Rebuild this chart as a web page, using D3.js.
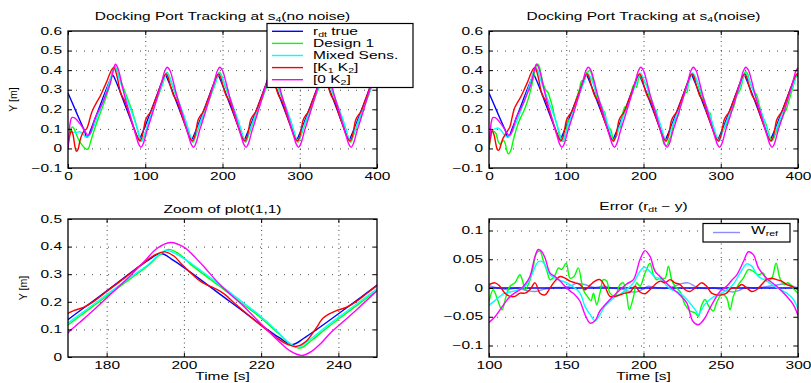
<!DOCTYPE html>
<html><head><meta charset="utf-8">
<script src="https://cdn.jsdelivr.net/npm/d3@7"></script>
<style>
body{margin:0;background:#fff}
svg{display:block}
text{font-family:"Liberation Sans",Arial,Helvetica,sans-serif;white-space:pre}
</style></head>
<body><svg id="c" width="811" height="383"></svg>
<script>
// ---------------- DATA: [time (s), Y (m)] ----------------
const rdtTrue = [[0,0.283],[10,0.192],[20,0.102],[22,0.083],[24,0.058],[26.5,0.066],[28.5,0.085],[44,0.245],[54.5,0.349],[58,0.374],[61.5,0.348],[76,0.2],[88.5,0.072],[92,0.045],[95.5,0.072],[110,0.218],[122.5,0.348],[126,0.375],[129.5,0.348],[144,0.2],[156.5,0.072],[160,0.045],[163.5,0.072],[178,0.218],[190.5,0.348],[194,0.375],[197.5,0.348],[212,0.2],[224.5,0.072],[228,0.045],[231.5,0.072],[246,0.218],[258.5,0.348],[262,0.375],[265.5,0.348],[280,0.2],[292.5,0.072],[296,0.045],[299.5,0.072],[314,0.218],[326.5,0.348],[330,0.377],[333.5,0.35],[348,0.202],[360.5,0.072],[364,0.045],[367.5,0.072],[382,0.218],[394.5,0.348],[398,0.375],[400,0.365]];

const design1Clean = [[0,0.03],[2.5,0.08],[5.5,0.11],[8,0.1],[11,0.07],[14.5,0.04],[18,0.018],[21,0.005],[24,-0.005],[26.5,0.0],[29,0.03],[32,0.07],[37,0.13],[45.5,0.22],[50,0.27],[54.5,0.333],[58.5,0.4],[61,0.418],[63.5,0.402],[66,0.37],[69.5,0.333],[76,0.265],[82.5,0.197],[89,0.111],[92,0.065],[95,0.036],[98,0.055],[101,0.092],[106,0.152],[112,0.218],[118,0.282],[123,0.334],[125.5,0.368],[128,0.39],[130.5,0.376],[134,0.333],[141,0.259],[148,0.184],[151.5,0.147],[156.5,0.085],[159,0.052],[162,0.032],[165,0.06],[169,0.105],[174,0.158],[180,0.22],[186,0.282],[191,0.334],[193.5,0.368],[196,0.39],[198.5,0.376],[202,0.333],[209,0.259],[216,0.184],[219.5,0.147],[224.5,0.085],[227,0.052],[230,0.032],[233,0.06],[237,0.105],[242,0.158],[248,0.22],[254,0.282],[259,0.334],[261.5,0.368],[264,0.39],[266.5,0.376],[270,0.333],[277,0.259],[284,0.184],[287.5,0.147],[292.5,0.085],[295,0.052],[298,0.032],[301,0.06],[305,0.105],[310,0.158],[316,0.22],[322,0.282],[327,0.334],[329.5,0.368],[332,0.39],[334.5,0.376],[338,0.333],[345,0.259],[352,0.184],[355.5,0.147],[360.5,0.085],[363,0.052],[366,0.032],[369,0.06],[373,0.105],[378,0.158],[384,0.22],[390,0.282],[395,0.334],[397.5,0.368],[400,0.39]];

const design1Noise = [[0,0.0],[2,0.05],[4.5,0.089],[7,0.085],[9,0.077],[12,0.034],[14.5,0.02],[17,0.035],[19,0.04],[21,0.025],[23,-0.01],[25,-0.028],[27,-0.02],[29,0.0],[31.5,0.043],[35.5,0.1],[39,0.14],[42.5,0.17],[46,0.2],[49,0.232],[52,0.27],[55,0.316],[58,0.37],[60.5,0.415],[62.5,0.432],[65,0.42],[68,0.367],[71,0.32],[74,0.295],[76.5,0.285],[79,0.255],[82,0.215],[85,0.16],[88,0.12],[91,0.07],[93.5,0.045],[95.5,0.035],[97.5,0.055],[100.6,0.104],[102.7,0.142],[105.5,0.154],[108.4,0.166],[111,0.216],[113.6,0.26],[116.8,0.299],[120,0.346],[123.3,0.349],[126,0.385],[128.2,0.392],[130.8,0.399],[133,0.377],[135,0.341],[137.5,0.297],[139.5,0.26],[142.3,0.238],[145,0.224],[147,0.201],[150,0.181],[152.4,0.13],[155,0.106],[157.8,0.095],[161,0.043],[164.3,0.058],[166,0.071],[167.6,0.104],[169.7,0.106],[171.8,0.148],[174,0.194],[176.2,0.214],[178.3,0.214],[181.5,0.242],[184.8,0.296],[186.9,0.321],[189.1,0.322],[190.8,0.312],[193.4,0.355],[195.6,0.379],[197.7,0.353],[201,0.339],[204.2,0.323],[206.4,0.28],[208.5,0.25],[210.7,0.23],[213.9,0.197],[216.1,0.196],[218.3,0.149],[220.4,0.116],[223.6,0.074],[226.9,0.021],[230.1,0.015],[233.3,0.045],[235.5,0.063],[237.6,0.104],[239.8,0.137],[241.9,0.148],[245.2,0.172],[247.4,0.21],[250.6,0.257],[253.8,0.284],[256,0.286],[258.1,0.331],[261.4,0.379],[264.6,0.379],[267.9,0.356],[271.1,0.32],[274.3,0.281],[277.6,0.25],[279.7,0.214],[283,0.185],[285.8,0.182],[288.3,0.13],[290.9,0.093],[293.7,0.067],[297,0.045],[299.6,0.061],[302,0.085],[305,0.105],[308,0.128],[311,0.17],[314,0.19],[317,0.215],[320,0.262],[323,0.285],[326,0.31],[329,0.36],[332,0.392],[334.5,0.385],[337,0.345],[340,0.315],[343,0.29],[346.5,0.273],[349,0.235],[352,0.19],[355,0.155],[358,0.13],[361,0.09],[364,0.055],[367,0.04],[370,0.065],[373,0.1],[376,0.13],[379,0.15],[382,0.178],[385,0.2],[388,0.24],[391,0.28],[394,0.32],[397,0.36],[400,0.385]];

const mixedEarlyClean = [[0,0.02],[1.5,0.07],[3,0.082],[7,0.082],[11,0.082],[15,0.085],[19,0.075],[22,0.062],[25,0.058],[28,0.068],[31,0.09]];
const mixedEarlyNoise = [[0,0.02],[1.5,0.075],[4,0.093],[8,0.1],[12,0.104],[15,0.095],[18,0.08],[21,0.065],[24,0.058],[27,0.064],[30,0.085]];
const mixedTail = [[36,0.14],[45,0.235],[54,0.345],[58,0.398],[60,0.415],[62.5,0.405],[66,0.36],[69,0.325],[75.5,0.257],[82,0.19],[86,0.145],[90.5,0.09],[93,0.055],[95.5,0.036],[98.5,0.062],[101,0.095],[106,0.158],[112,0.226],[118,0.287],[123,0.338],[125.5,0.37],[127.5,0.386],[130,0.374],[134,0.338],[141,0.265],[148,0.19],[151.5,0.152],[156,0.095],[158.5,0.06],[161.5,0.035],[164.5,0.062],[169,0.112],[174,0.164],[180,0.226],[186,0.287],[191,0.338],[193.5,0.37],[195.5,0.386],[198,0.374],[202,0.338],[209,0.265],[216,0.19],[219.5,0.152],[224,0.095],[226.5,0.06],[229.5,0.035],[232.5,0.062],[237,0.112],[242,0.164],[248,0.226],[254,0.287],[259,0.338],[261.5,0.37],[263.5,0.386],[266,0.374],[270,0.338],[277,0.265],[284,0.19],[287.5,0.152],[292,0.095],[294.5,0.06],[297.5,0.035],[300.5,0.062],[305,0.112],[310,0.164],[316,0.226],[322,0.287],[327,0.338],[329.5,0.37],[331.5,0.386],[334,0.374],[338,0.338],[345,0.265],[352,0.19],[355.5,0.152],[360,0.095],[362.5,0.06],[365.5,0.035],[368.5,0.062],[373,0.112],[378,0.164],[384,0.226],[390,0.287],[395,0.338],[397.5,0.37],[399.5,0.386],[400,0.385]];

const k1k2EarlyClean = [[0,0.0],[2,0.06],[4.5,0.09],[6.5,0.07],[9,0.01],[11,-0.015],[13,-0.005],[15.5,0.04],[18,0.07],[21,0.09],[24,0.1],[26.5,0.125],[29.5,0.17]];
const k1k2EarlyNoise = [[0,0.0],[2,0.06],[4,0.09],[6.5,0.07],[9,0.02],[11,-0.008],[13,-0.008],[15.5,0.02],[18,0.05],[20.5,0.068],[24,0.09],[27,0.11],[30,0.16]];
const k1k2Tail = [[33,0.205],[37,0.235],[41,0.262],[45.5,0.3],[50,0.34],[54,0.38],[57,0.405],[59.5,0.414],[62,0.39],[64.5,0.35],[67,0.3],[69,0.275],[71,0.26],[73,0.247],[75,0.228],[78,0.19],[84,0.12],[89,0.065],[91.5,0.045],[93,0.038],[95.5,0.055],[98,0.1],[100,0.14],[101.5,0.155],[103.5,0.168],[106,0.18],[108.5,0.2],[111.5,0.232],[116.5,0.285],[121.5,0.34],[124.5,0.37],[127,0.381],[129.5,0.365],[131.5,0.335],[134.5,0.295],[136.5,0.272],[138.5,0.258],[140.5,0.245],[142.5,0.228],[145.5,0.19],[151.5,0.12],[156.5,0.065],[159,0.045],[161,0.038],[163.5,0.055],[166,0.1],[168,0.14],[169.5,0.155],[171.5,0.168],[174,0.18],[176.5,0.2],[179.5,0.232],[184.5,0.285],[189.5,0.34],[192.5,0.37],[195,0.381],[197.5,0.365],[199.5,0.335],[202.5,0.295],[204.5,0.272],[206.5,0.258],[208.5,0.245],[210.5,0.228],[213.5,0.19],[219.5,0.12],[224.5,0.065],[227,0.045],[229,0.038],[231.5,0.055],[234,0.1],[236,0.14],[237.5,0.155],[239.5,0.168],[242,0.18],[244.5,0.2],[247.5,0.232],[252.5,0.285],[257.5,0.34],[260.5,0.37],[263,0.381],[265.5,0.365],[267.5,0.335],[270.5,0.295],[272.5,0.272],[274.5,0.258],[276.5,0.245],[278.5,0.228],[281.5,0.19],[287.5,0.12],[292.5,0.065],[295,0.045],[297,0.038],[299.5,0.055],[302,0.1],[304,0.14],[305.5,0.155],[307.5,0.168],[310,0.18],[312.5,0.2],[315.5,0.232],[320.5,0.285],[325.5,0.34],[328.5,0.37],[331,0.381],[333.5,0.365],[335.5,0.335],[338.5,0.295],[340.5,0.272],[342.5,0.258],[344.5,0.245],[346.5,0.228],[349.5,0.19],[355.5,0.12],[360.5,0.065],[363,0.045],[365,0.038],[367.5,0.055],[370,0.1],[372,0.14],[373.5,0.155],[375.5,0.168],[378,0.18],[380.5,0.2],[383.5,0.232],[388.5,0.285],[393.5,0.34],[396.5,0.37],[399,0.381],[400,0.378]];

const k0k2 = [[0,0.0],[1.5,0.08],[3,0.135],[5,0.158],[8,0.157],[11,0.148],[14,0.133],[17,0.118],[20,0.1],[23,0.08],[25.5,0.068],[28,0.072],[31,0.1],[35,0.155],[40,0.195],[45.5,0.24],[50,0.285],[54.5,0.33],[57.5,0.38],[60,0.42],[61.5,0.43],[63.5,0.42],[66.5,0.385],[69,0.34],[73.5,0.265],[79,0.19],[84,0.12],[88.5,0.058],[91.5,0.022],[94.5,0.006],[97,0.02],[99.5,0.05],[102,0.088],[105,0.125],[109,0.175],[114,0.24],[118,0.293],[122,0.35],[125,0.393],[128.5,0.415],[132,0.398],[136,0.345],[141.5,0.26],[147,0.19],[152,0.12],[156.5,0.058],[159.5,0.022],[162.5,0.006],[165,0.02],[167.5,0.05],[170,0.088],[173,0.125],[177,0.175],[182,0.24],[186,0.293],[190,0.35],[193,0.393],[196.5,0.415],[200,0.398],[204,0.345],[209.5,0.26],[215,0.19],[220,0.12],[224.5,0.058],[227.5,0.022],[230.5,0.006],[233,0.02],[235.5,0.05],[238,0.088],[241,0.125],[245,0.175],[250,0.24],[254,0.293],[258,0.35],[261,0.393],[264.5,0.415],[268,0.398],[272,0.345],[277.5,0.26],[283,0.19],[288,0.12],[292.5,0.058],[295.5,0.022],[298.5,0.006],[301,0.02],[303.5,0.05],[306,0.088],[309,0.125],[313,0.175],[318,0.24],[322,0.293],[326,0.35],[329,0.393],[332.5,0.415],[336,0.398],[340,0.345],[345.5,0.26],[351,0.19],[356,0.12],[360.5,0.058],[363.5,0.022],[366.5,0.006],[369,0.02],[371.5,0.05],[374,0.088],[377,0.125],[381,0.175],[386,0.24],[390,0.293],[394,0.35],[397,0.393],[400,0.412]];

// ---------------- Error (r_dt - y): [time (s), error (m)] ----------------
const errTrue = [[100,0],[300,0]];
const errWref = [[100,0.004],[106,0.0],[112,-0.003],[118,0.0],[124,-0.004],[130,-0.006],[136,-0.002],[142,0.001],[148,0.001],[153,0.004],[157,0.008],[162,0.006],[168,0.001],[174,0.003],[180,0.0],[186,-0.002],[191,-0.006],[195,-0.007],[199,-0.003],[203,0.003],[208,0.001],[214,-0.001],[220,0.003],[225,0.008],[229,0.009],[234,0.002],[240,-0.001],[246,0.0],[252,-0.004],[258,-0.007],[262,-0.004],[266,0.001],[272,0.0],[278,0.002],[284,0.004],[290,0.007],[293,0.008],[297,0.003],[300,0.0]];
const errDesign1 = [[100,-0.024],[102.7,-0.003],[105.5,-0.02],[108.4,-0.038],[111,-0.015],[113.6,0.003],[116.8,0.009],[120,0.023],[121.8,0.012],[123.3,-0.003],[126,0.01],[128.2,0.03],[130.8,0.061],[133,0.064],[135,0.049],[137.5,0.03],[139.5,0.0145],[142.3,0.02],[145,0.035],[147,0.032],[150,0.043],[152.4,0.017],[155,0.02],[157.8,0.035],[161,-0.003],[164.3,-0.017],[166,-0.022],[167.6,-0.009],[169.7,-0.029],[171.8,-0.009],[174,0.0145],[176.2,0.012],[178.3,-0.009],[181.5,-0.014],[184.8,0.006],[186.9,0.009],[189.1,-0.012],[190.8,-0.038],[193.4,-0.017],[195.6,0.009],[197.7,0.003],[201,0.026],[204.2,0.043],[206.4,0.023],[208.5,0.0145],[210.7,0.017],[213.9,0.017],[216.1,0.038],[218.3,0.014],[220.4,0.003],[223.6,-0.006],[226.9,-0.029],[230.1,-0.04],[233.3,-0.043],[235.5,-0.049],[237.6,-0.03],[239.8,-0.02],[241.9,-0.03],[245.2,-0.04],[247.4,-0.025],[250.6,-0.011],[253.8,-0.017],[256,-0.038],[258.1,-0.015],[261.4,0.006],[264.6,0.017],[267.9,0.032],[271.1,0.029],[274.3,0.023],[277.6,0.026],[279.7,0.012],[283,0.017],[285.8,0.043],[288.3,0.017],[290.9,0.006],[293.7,0.009],[297,-0.001],[300,-0.009]];
const errMixed = [[100,-0.03],[103.8,-0.022],[107.1,-0.0145],[110.3,-0.009],[116.8,-0.005],[123.3,0.003],[127.6,0.023],[132,0.046],[135,0.045],[139.5,0.023],[142.7,0.017],[152.4,0.006],[158.9,-0.009],[162.1,-0.032],[165.4,-0.046],[168.6,-0.057],[171.5,-0.048],[175,-0.032],[181.5,-0.016],[188,-0.005],[193.5,0.009],[197.7,0.029],[200.5,0.036],[203,0.032],[207.5,0.019],[210.7,0.016],[217,-0.001],[223.6,-0.009],[230,-0.026],[234,-0.04],[235.5,-0.046],[239.8,-0.028],[246,-0.014],[252.6,-0.006],[258,0.006],[262.5,0.026],[266.8,0.042],[270,0.038],[274.4,0.02],[279.7,0.012],[286,0.001],[292.7,-0.009],[297,-0.02],[300,-0.036]];
const errK1K2 = [[100,0.006],[103.9,0.009],[107,0.003],[110.3,-0.009],[113.6,-0.0145],[116.8,-0.0145],[120.1,-0.009],[123.3,-0.009],[126.5,-0.003],[129.8,0.009],[133,-0.009],[136.3,-0.012],[139.5,0.0],[142.7,0.012],[146,0.02],[149.2,0.017],[152.4,0.012],[155.7,0.009],[158.9,0.006],[162.1,-0.003],[165.4,0.005],[168.6,0.012],[171.8,0.0145],[175,0.003],[178.3,-0.0145],[181.5,-0.0145],[184.8,-0.012],[188,-0.009],[191.3,-0.007],[194.5,0.003],[197.7,-0.007],[201,-0.01],[204.2,-0.003],[207.5,0.006],[210.7,0.012],[213.9,0.009],[217.2,0.0145],[220.4,0.009],[223.6,0.006],[226.9,-0.003],[230.1,-0.006],[233.3,0.0],[237.6,0.009],[240.9,0.003],[244.1,-0.009],[247.4,-0.012],[250.6,-0.012],[253.8,-0.009],[257,0.0],[260.3,0.0],[263.5,0.006],[266.8,0.0],[270,-0.006],[273.2,-0.003],[276.5,0.006],[279.7,0.0145],[283,0.017],[286.2,0.0145],[289.4,0.012],[292.7,0.006],[295.9,0.003],[300,-0.003]];
const errK0K2 = [[100,-0.06],[103.9,-0.05],[107.1,-0.038],[110.5,-0.025],[113.6,-0.015],[117,-0.008],[120.1,-0.003],[123.3,0.006],[126.5,0.02],[129.8,0.055],[131.9,0.067],[134,0.064],[136.3,0.052],[139.5,0.026],[142.7,0.02],[146,0.012],[149.2,0.003],[152.4,-0.005],[155.7,-0.012],[158.9,-0.023],[162.1,-0.046],[165.4,-0.061],[168.6,-0.057],[171.8,-0.04],[178.3,-0.02],[184.8,-0.003],[189.1,0.007],[193.5,0.0145],[197.7,0.049],[201,0.065],[204.2,0.055],[207.5,0.029],[210.7,0.02],[217,0.003],[223.6,-0.012],[228,-0.026],[232,-0.058],[235.5,-0.064],[239.8,-0.052],[243,-0.035],[249.5,-0.006],[253.8,0.003],[257,0.013],[260.4,0.023],[264.7,0.046],[267.9,0.063],[271.1,0.058],[274.4,0.035],[279.7,0.017],[286.2,0.003],[292.7,-0.0145],[297,-0.029],[300,-0.048]];

// ---------------- Ticks & labels ----------------
const topXTicks = [0,100,200,300,400];
const topXLabels = ["0","100","200","300","400"];
const topYTicks = [-0.1,0,0.1,0.2,0.3,0.4,0.5,0.6];
const topYLabels = ["\u22120.1","0","0.1","0.2","0.3","0.4","0.5","0.6"];
const zoomXTicks = [180,200,220,240];
const zoomXLabels = ["180","200","220","240"];
const zoomYTicks = [0,0.1,0.2,0.3,0.4,0.5];
const zoomYLabels = ["0","0.1","0.2","0.3","0.4","0.5"];
const errXTicks = [100,150,200,250,300];
const errXLabels = ["100","150","200","250","300"];
const errYTicks = [-0.1,-0.05,0,0.05,0.1];
const errYLabels = ["\u22120.1","\u22120.05","0","0.05","0.1"];

const seriesColors = {blue:"#0000ff", green:"#00ff00", cyan:"#00ffff", red:"#ff0000", magenta:"#ff00ff", lav:"#8c8cff"};

// ---------------- Drawing ----------------
const SX = 1.55;        // horizontal stretch of the bitmap-like axis font
const FS = 10;
const svg = d3.select("#c");
svg.append("rect").attr("width",811).attr("height",383).attr("fill","#fff");

function stext(x, y, anchor, parts, size) {
  size = size || FS;
  const g = svg.append("g").attr("transform", `translate(${x},${y}) scale(${SX},1)`);
  const t = g.append("text").attr("text-anchor", anchor).attr("font-size", size).attr("fill","#000");
  let shift = 0;
  parts.forEach(p => {
    const sub = Array.isArray(p);
    const target = sub ? 2.2 : 0;
    t.append("tspan").attr("font-size", sub ? size*0.68 : size).attr("dy", target - shift).text(sub ? p[0] : p);
    shift = target;
  });
  return g;
}

let clipN = 0;
function panel(p) {
  const x = d3.scaleLinear().domain(p.xd).range([p.x0, p.x1]);
  const y = d3.scaleLinear().domain(p.yd).range([p.y1, p.y0]);
  const g = svg.append("g");
  const W = p.x1 - p.x0, H = p.y1 - p.y0;
  // grid
  const gx = g.append("g").attr("transform", `translate(0,${p.y1})`)
    .call(d3.axisBottom(x).tickValues(p.xt.filter(v => v > p.xd[0] && v < p.xd[1])).tickSize(-H).tickFormat(""));
  gx.select(".domain").remove();
  gx.selectAll("line").attr("stroke","#333").attr("stroke-width",0.9).attr("stroke-dasharray","1,3.5");
  const gy = g.append("g").attr("transform", `translate(${p.x0},0)`)
    .call(d3.axisLeft(y).tickValues(p.yt.filter(v => v > p.yd[0] && v < p.yd[1])).tickSize(-W).tickFormat(""));
  gy.select(".domain").remove();
  gy.selectAll("line").attr("stroke","#333").attr("stroke-width",0.9).attr("stroke-dasharray","1,7");
  // clip
  const id = "clip" + (clipN++);
  svg.append("clipPath").attr("id", id).append("rect").attr("x", p.x0).attr("y", p.y0).attr("width", W).attr("height", H);
  const line = d3.line().x(d => x(d[0])).y(d => y(d[1])).curve(d3.curveCatmullRom.alpha(0.5));
  p.series.forEach(s => {
    g.append("path").datum(s.data).attr("clip-path", `url(#${id})`)
      .attr("fill","none").attr("stroke", s.color).attr("stroke-width", s.w || 1.4)
      .attr("stroke-linejoin","round").attr("d", line);
  });
  // box
  g.append("rect").attr("x", p.x0).attr("y", p.y0).attr("width", W).attr("height", H)
    .attr("fill","none").attr("stroke","#000").attr("stroke-width",1.3);
  // axes (inward ticks)
  const ax = g.append("g").attr("transform", `translate(0,${p.y1})`)
    .call(d3.axisBottom(x).tickValues(p.xt).tickSizeInner(-4).tickSizeOuter(0).tickPadding(5).tickFormat((d,i) => p.xl[i]));
  const ay = g.append("g").attr("transform", `translate(${p.x0},0)`)
    .call(d3.axisLeft(y).tickValues(p.yt).tickSizeInner(-4).tickSizeOuter(0).tickPadding(6).tickFormat((d,i) => p.yl[i]));
  const at = g.append("g").attr("transform", `translate(0,${p.y0})`)
    .call(d3.axisTop(x).tickValues(p.xt).tickSizeInner(-4).tickSizeOuter(0).tickFormat(""));
  const ar = g.append("g").attr("transform", `translate(${p.x1},0)`)
    .call(d3.axisRight(y).tickValues(p.yt).tickSizeInner(-4).tickSizeOuter(0).tickFormat(""));
  [ax, ay, at, ar].forEach(a => {
    a.select(".domain").remove();
    a.selectAll("line").attr("stroke","#000");
    a.selectAll("text").attr("font-size", FS).attr("fill","#000")
      .attr("font-family",'"Liberation Sans",Arial,sans-serif');
  });
  ax.selectAll("text").attr("transform", `scale(${SX},1)`);
  ay.selectAll("text").attr("x", -6 / SX).attr("transform", `scale(${SX},1)`);
  return {x, y};
}

function ylabel(cx, cy) {
  svg.append("text").attr("transform", `translate(${cx},${cy}) rotate(-90)`)
    .attr("text-anchor","middle").attr("font-size", 10.5).attr("fill","#000").text("Y [m]");
}

const C = seriesColors;
// Top-left: no noise
panel({x0:68, x1:377, y0:31, y1:168, xd:[0,400], yd:[-0.1,0.6],
  xt: topXTicks, xl: topXLabels, yt: topYTicks, yl: topYLabels,
  series: [
    {data: rdtTrue, color: C.blue},
    {data: design1Clean, color: C.green},
    {data: mixedEarlyClean.concat(mixedTail), color: C.cyan},
    {data: k1k2EarlyClean.concat(k1k2Tail), color: C.red},
    {data: k0k2, color: C.magenta}
  ]});
// Top-right: noise
panel({x0:489, x1:798, y0:31, y1:168, xd:[0,400], yd:[-0.1,0.6],
  xt: topXTicks, xl: topXLabels, yt: topYTicks, yl: topYLabels,
  series: [
    {data: rdtTrue, color: C.blue},
    {data: design1Noise, color: C.green},
    {data: mixedEarlyNoise.concat(mixedTail), color: C.cyan},
    {data: k1k2EarlyNoise.concat(k1k2Tail), color: C.red},
    {data: k0k2, color: C.magenta}
  ]});
// Bottom-left: zoom of plot(1,1)
panel({x0:68, x1:377, y0:219, y1:357, xd:[170,250], yd:[0,0.5],
  xt: zoomXTicks, xl: zoomXLabels, yt: zoomYTicks, yl: zoomYLabels,
  series: [
    {data: rdtTrue, color: C.blue},
    {data: design1Clean, color: C.green},
    {data: mixedEarlyClean.concat(mixedTail), color: C.cyan},
    {data: k1k2EarlyClean.concat(k1k2Tail), color: C.red},
    {data: k0k2, color: C.magenta}
  ]});
// Bottom-right: error
panel({x0:489, x1:798, y0:219, y1:357, xd:[100,300], yd:[-0.12,0.12],
  xt: errXTicks, xl: errXLabels, yt: errYTicks, yl: errYLabels,
  series: [
    {data: errWref, color: C.lav},
    {data: errTrue, color: C.blue},
    {data: errDesign1, color: C.green},
    {data: errMixed, color: C.cyan},
    {data: errK1K2, color: C.red},
    {data: errK0K2, color: C.magenta}
  ]});

// titles and labels
stext(222.5, 19.5, "middle", ["Docking Port Tracking at s", ["4"], "(no noise)"]);
stext(643.5, 19.5, "middle", ["Docking Port Tracking at s", ["4"], "(noise)"]);
stext(222.5, 212.5, "middle", ["Zoom of plot(1,1)"]);
stext(643.5, 209.5, "middle", ["Error (r", ["dt"], " \u2212 y)"]);
stext(222.5, 380, "middle", ["Time [s]"]);
stext(643.5, 380, "middle", ["Time [s]"]);
ylabel(16.5, 99.5);
ylabel(27, 288);

// legend top-left
const legItems = [
  {parts: ["r", ["dt"], " true"], color: C.blue},
  {parts: ["Design 1"], color: C.green},
  {parts: ["Mixed Sens."], color: C.cyan},
  {parts: ["[K", ["1"], " K", ["2"], "]"], color: C.red},
  {parts: ["[0 K", ["2"], "]"], color: C.magenta}
];
svg.append("rect").attr("x",267).attr("y",23.5).attr("width",146).attr("height",64)
  .attr("fill","#fff").attr("stroke","#000").attr("stroke-width",1.2);
legItems.forEach((it, i) => {
  const ly = 31.3 + i * 12.1;
  svg.append("line").attr("x1",272).attr("x2",303).attr("y1",ly).attr("y2",ly)
    .attr("stroke", it.color).attr("stroke-width",1.4);
  stext(313, ly + 3.3, "start", it.parts);
});
// legend bottom-right
svg.append("rect").attr("x",703).attr("y",223.5).attr("width",87).attr("height",18.5)
  .attr("fill","#fff").attr("stroke","#000").attr("stroke-width",1.2);
svg.append("line").attr("x1",713).attr("x2",740).attr("y1",232.5).attr("y2",232.5)
  .attr("stroke", C.lav).attr("stroke-width",1.4);
stext(751, 233.5, "start", ["W", ["ref"]]);
</script>
</body></html>
